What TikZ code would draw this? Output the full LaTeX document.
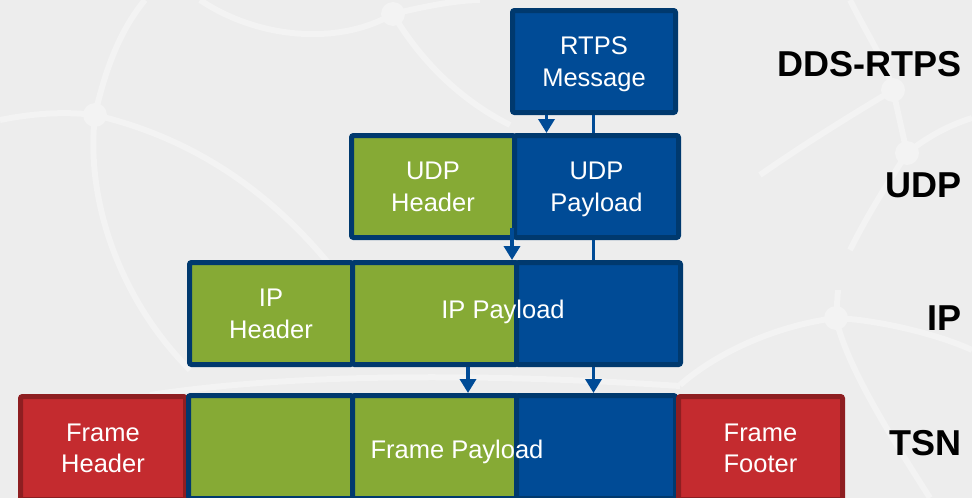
\documentclass[tikz,border=0pt]{standalone}
\usepackage{fontspec}
\setmainfont{Liberation Sans}
\usetikzlibrary{arrows.meta}
\definecolor{bg}{HTML}{EDEDED}
\definecolor{net}{HTML}{F3F3F3}
\definecolor{navy}{HTML}{00396E}
\definecolor{pblue}{HTML}{004B96}
\definecolor{pgreen}{HTML}{86AA35}
\definecolor{pred}{HTML}{C42B2F}
\definecolor{dred}{HTML}{8E1E21}

\begin{document}
\begin{tikzpicture}[x=1pt,y=-1pt,
  seg/.style={draw=navy, line width=5pt, rounded corners=2pt, inner sep=0pt,
    minimum height=102pt, text=white, align=center, text depth=0pt,
    font=\fontsize{25.5}{31.5}\selectfont},
  bluseg/.style={seg, fill=pblue},
  grnseg/.style={seg, fill=pgreen},
  redseg/.style={seg, draw=dred, fill=pred},
  lbl/.style={font=\fontsize{25.5}{31.5}\selectfont, text=white, align=center, inner sep=0pt},
  layer/.style={font=\bfseries\fontsize{36}{40}\selectfont, anchor=east, inner sep=0pt},
  netline/.style={draw=net, line width=6pt},
  netdot/.style={fill=net},
  link/.style={draw=pblue, line width=3.5pt},
  arr/.style={link, -{Triangle[width=16pt,length=14pt]}},
]
% canvas
\fill[bg] (0,0) rectangle (972,498);
\useasboundingbox (0,0) rectangle (972,498);

% faint network pattern in the background
\path[netline] (0,120) .. controls (40,112) and (70,112) .. (95,115);
\path[netline] (95,115) .. controls (180,135) and (260,180) .. (330,265);
\path[netline] (95,115) .. controls (85,200) and (120,300) .. (190,370);
\path[netline] (95,115) .. controls (105,70) and (120,30) .. (145,0);
\path[netline] (200,0) .. controls (260,40) and (340,45) .. (393,14);
\path[netline] (393,14) .. controls (420,60) and (460,100) .. (510,125);
\path[netline] (393,14) .. controls (430,5) and (460,0) .. (480,0);
\path[netline] (760,175) .. controls (810,140) and (860,110) .. (893,90);
\path[netline] (893,90) .. controls (885,60) and (870,40) .. (850,0);
\path[netline] (893,90) -- (907,153);
\path[netline] (907,153) .. controls (930,135) and (950,125) .. (972,118);
\path[netline] (907,153) .. controls (890,180) and (870,210) .. (850,250);
\path[netline] (836,318) .. controls (780,325) and (720,350) .. (680,385);
\path[netline] (836,318) .. controls (880,320) and (940,335) .. (972,350);
\path[netline] (836,318) .. controls (845,360) and (880,420) .. (930,498);
\path[netline] (836,318) -- (838,290);
\path[netline] (150,395) .. controls (300,372) and (500,374) .. (680,386);
\foreach \p in {(95,115),(393,14),(893,90),(907,153),(836,318)}
  \fill[netdot] \p circle (12);

% DDS-RTPS layer
\node[bluseg, minimum width=163pt] (rtps) at (594,61.5) {RTPS\\Message};

% UDP layer
\node[grnseg, minimum width=163pt] (udph) at (433,186.5) {UDP\\Header};
\node[bluseg, minimum width=164pt] (udpp) at (596.5,186.5) {UDP\\Payload};

% IP layer
\node[grnseg, minimum width=163pt] (iph) at (271,313.5) {IP\\Header};
\node[grnseg, minimum width=165pt] (ipg) at (435,313.5) {};
\node[bluseg, minimum width=164pt] (ipb) at (598.5,313.5) {};
\node[lbl] (iptxt) at (503,311.5) {IP Payload};

% TSN layer
\node[redseg, minimum width=165pt, minimum height=103pt] (fh) at (103,448) {Frame\\Header};
\node[grnseg, minimum width=164pt, minimum height=103pt] (tg1) at (270.5,447) {};
\node[grnseg, minimum width=165pt, minimum height=103pt] (tg2) at (435,447) {};
\node[bluseg, minimum width=159pt, minimum height=103pt] (tb) at (596,447) {};
\node[redseg, minimum width=164pt, minimum height=103pt] (ff) at (760.5,448) {Frame\\Footer};
\node[lbl] (ftxt) at (457,452) {Frame Payload};

% layer names
\node[layer] (lrtps) at (962,64) {DDS-RTPS};
\node[layer] (ludp) at (962,185.5) {UDP};
\node[layer] (lip) at (962,318.5) {IP};
\node[layer] (ltsn) at (962,443.5) {TSN};

% connector columns
\coordinate (ca) at (546.5,0);
\coordinate (cb) at (593.5,0);
\coordinate (cc) at (512,0);
\coordinate (cd) at (468,0);
\coordinate (udpsrc) at ([yshift=12pt]udph.south);

% encapsulation links
\draw[arr]  (rtps.south -| ca) -- (udpp.north -| ca);
\draw[link] (rtps.south -| cb) -- (udpp.north -| cb);
\draw[arr]  (udpsrc -| cc) -- (ipg.north -| cc);
\draw[link] (udpp.south -| cb) -- (ipb.north -| cb);
\draw[arr]  (ipg.south -| cd) -- (tg2.north -| cd);
\draw[arr]  (ipb.south -| cb) -- (tb.north -| cb);
\end{tikzpicture}
\end{document}
